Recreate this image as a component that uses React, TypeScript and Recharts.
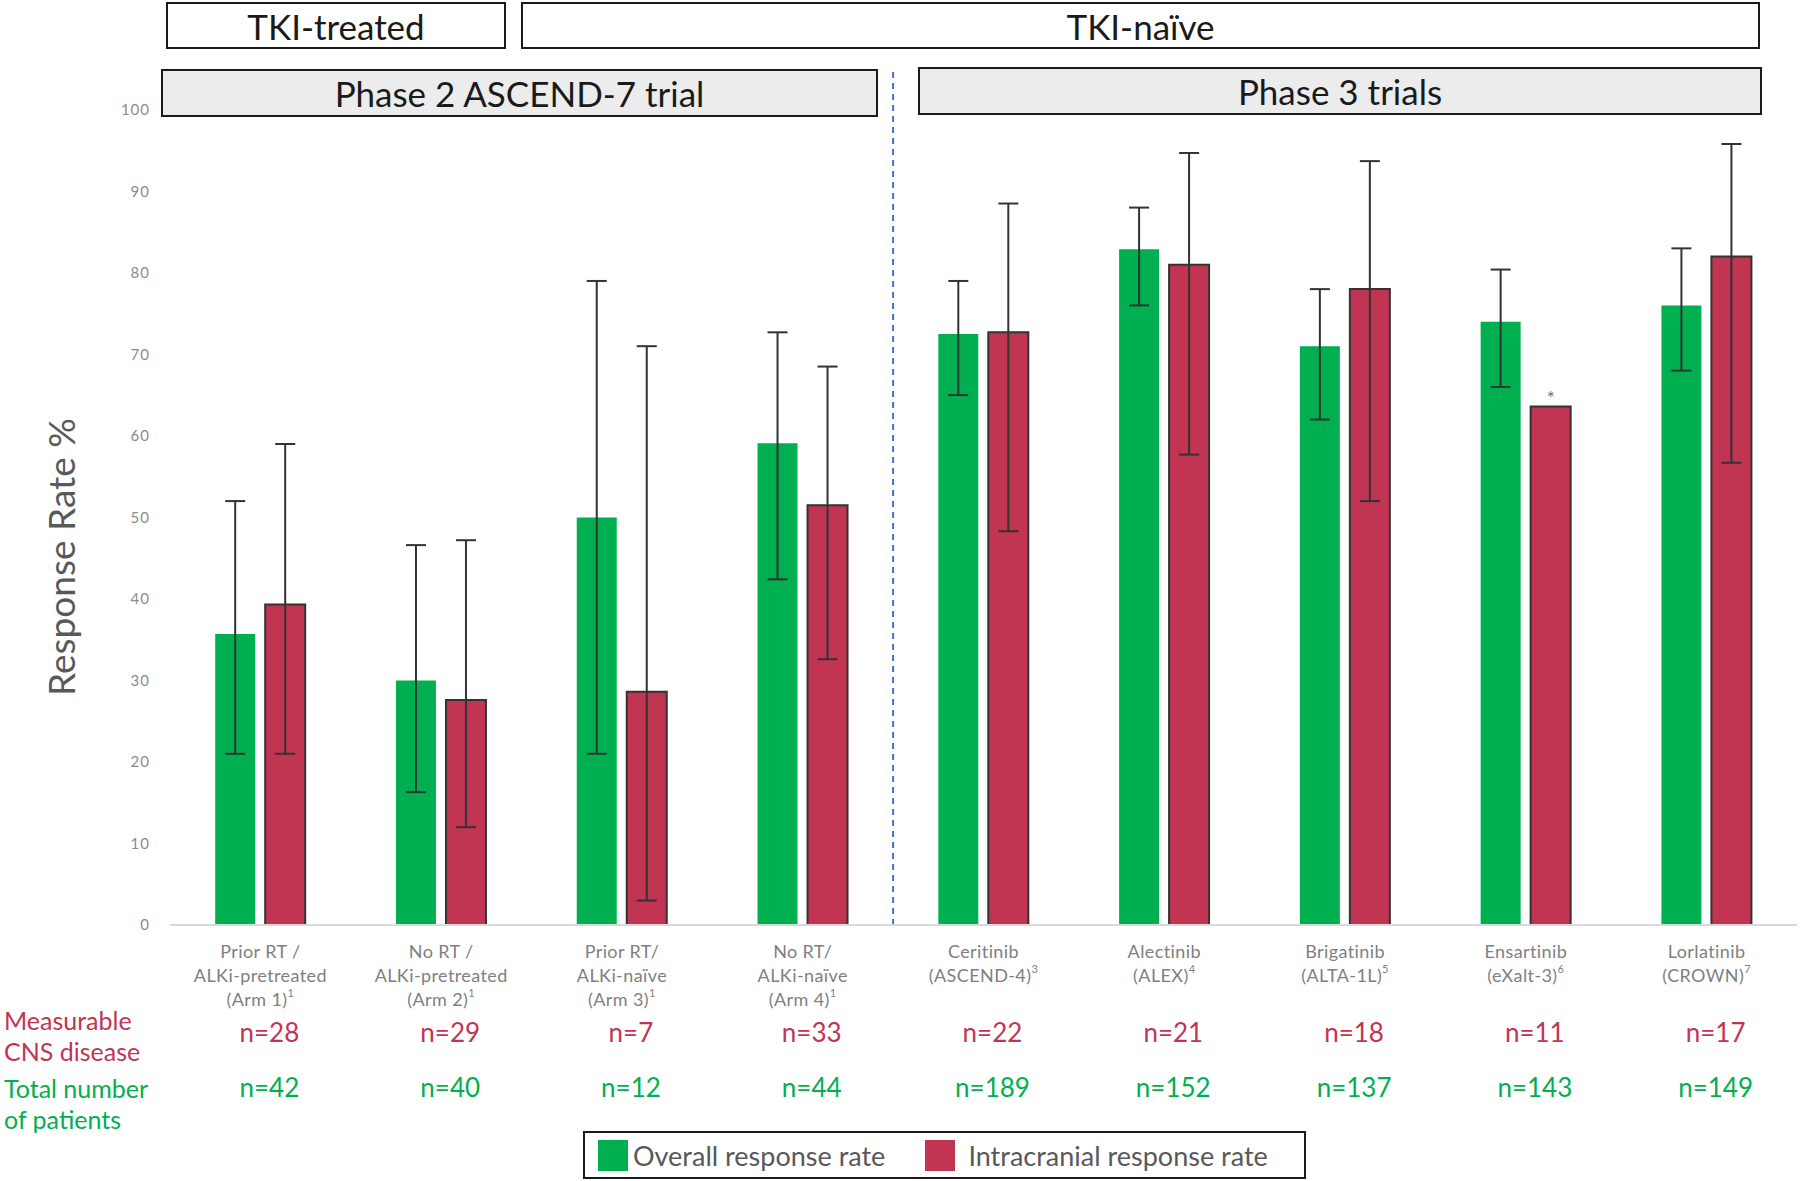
import React from "react";
import {
  BarChart,
  Bar,
  XAxis,
  YAxis,
  ErrorBar,
  ReferenceLine,
  LabelList,
} from "recharts";

const FONT = "Lato, 'Open Sans', sans-serif";
const GREEN = "#00b050";
const RED = "#c13452";

// category labels (one entry per line) and reference numbers
const categories = [
  ["Prior RT /", "ALKi-pretreated", "(Arm 1)"],
  ["No RT /", "ALKi-pretreated", "(Arm 2)"],
  ["Prior RT/", "ALKi-naïve", "(Arm 3)"],
  ["No RT/", "ALKi-naïve", "(Arm 4)"],
  ["Ceritinib", "(ASCEND-4)"],
  ["Alectinib", "(ALEX)"],
  ["Brigatinib", "(ALTA-1L)"],
  ["Ensartinib", "(eXalt-3)"],
  ["Lorlatinib", "(CROWN)"],
];
const refs = ["1", "1", "1", "1", "3", "4", "5", "6", "7"];

// overall response rate + 95% CI
const overall = [35.7, 30.0, 50.0, 59.1, 72.5, 82.9, 71.0, 74.0, 76.0];
const overallLow = [21.0, 16.3, 21.0, 42.4, 65.0, 76.0, 62.0, 66.0, 68.0];
const overallHigh = [52.0, 46.6, 79.0, 72.7, 79.0, 88.0, 78.0, 80.4, 83.0];

// intracranial response rate + 95% CI (none for eXalt-3)
const intracranial = [39.3, 27.6, 28.6, 51.5, 72.7, 81.0, 78.0, 63.6, 82.0];
const icLow = [21.0, 12.0, 3.0, 32.6, 48.3, 57.7, 52.0, null, 56.7];
const icHigh = [59.0, 47.2, 71.0, 68.5, 88.5, 94.7, 93.7, null, 95.8];
const notes = ["", "", "", "", "", "", "", "*", ""];

// patient numbers
const cnsN = [28, 29, 7, 33, 22, 21, 18, 11, 17];
const totalN = [42, 40, 12, 44, 189, 152, 137, 143, 149];

const yTicks = [0, 10, 20, 30, 40, 50, 60, 70, 80, 90, 100];
const seriesNames = ["Overall response rate", "Intracranial response rate"];

const data = categories.map((lines, i) => ({
  name: lines.join(" "),
  overall: overall[i],
  intracranial: intracranial[i],
  overallErr: [overall[i] - overallLow[i], overallHigh[i] - overall[i]],
  icErr:
    icLow[i] == null || icHigh[i] == null
      ? null
      : [intracranial[i] - (icLow[i] as number), (icHigh[i] as number) - intracranial[i]],
  note: notes[i],
}));

// x tick: category label lines + the two n= rows under it
const CategoryTick = (props: any) => {
  const { x, y, index } = props;
  const lines = categories[index];
  return (
    <g fontFamily={FONT}>
      {lines.map((line, j) => (
        <text
          key={j}
          x={x}
          y={y + 26 + j * 24}
          textAnchor="middle"
          dominantBaseline="central"
          fontSize={18}
          letterSpacing={0.4}
          fill="#7f7f7f"
        >
          {line}
          {j === lines.length - 1 && (
            <tspan fontSize={11} dy={-7}>
              {refs[index]}
            </tspan>
          )}
        </text>
      ))}
      <text x={x + 9} y={y + 107} textAnchor="middle" dominantBaseline="central" fontSize={26} fill={RED}>
        n={cnsN[index]}
      </text>
      <text x={x + 9} y={y + 162} textAnchor="middle" dominantBaseline="central" fontSize={26} fill={GREEN}>
        n={totalN[index]}
      </text>
    </g>
  );
};

const boxStyle = (bg: string): React.CSSProperties => ({
  position: "absolute",
  boxSizing: "border-box",
  border: "2px solid #1a1a1a",
  background: bg,
  display: "flex",
  alignItems: "center",
  justifyContent: "center",
  fontFamily: FONT,
  fontSize: 35,
  color: "#1a1a1a",
});

const rowLabel: React.CSSProperties = {
  position: "absolute",
  left: 4,
  fontFamily: FONT,
  fontSize: 25,
  lineHeight: "31px",
};

export default function App() {
  return (
    <div style={{ position: "absolute", left: 0, top: 0, width: 1800, height: 1181, background: "#fff" }}>
      <BarChart
        width={1800}
        height={1181}
        data={data}
        margin={{ top: 69, right: 3, left: 110, bottom: 196 }}
        barCategoryGap="25%"
        barGap={10}
      >
        <XAxis
          dataKey="name"
          interval={0}
          height={60}
          tickLine={false}
          tickSize={0}
          tickMargin={0}
          axisLine={{ stroke: "#d9d9d9", strokeWidth: 2 }}
          tick={<CategoryTick />}
        />
        <YAxis
          domain={[0, 105]}
          ticks={yTicks}
          width={60}
          axisLine={false}
          tickLine={false}
          tickSize={0}
          tickMargin={20}
          tick={{ fontSize: 15, fill: "#8c8c8c", fontFamily: FONT, letterSpacing: 1 }}
        />

        {/* TKI-treated / TKI-naive divider */}
        <ReferenceLine
          x={data[4].name}
          position="start"
          stroke="#4472c4"
          strokeWidth={2}
          strokeDasharray="6 5"
        />

        <Bar dataKey="overall" name={seriesNames[0]} fill={GREEN} isAnimationActive={false}>
          <ErrorBar dataKey="overallErr" width={10} stroke="#333" strokeWidth={2} direction="y" />
        </Bar>
        <Bar
          dataKey="intracranial"
          name={seriesNames[1]}
          fill={RED}
          stroke="#333"
          strokeWidth={2}
          isAnimationActive={false}
        >
          <ErrorBar dataKey="icErr" width={10} stroke="#333" strokeWidth={2} direction="y" />
          <LabelList dataKey="note" position="top" offset={2} fill="#777" fontSize={20} fontFamily={FONT} />
        </Bar>
      </BarChart>

      {/* header boxes */}
      <div style={{ ...boxStyle("#fff"), left: 166, top: 2, width: 340, height: 47 }}>TKI-treated</div>
      <div style={{ ...boxStyle("#fff"), left: 521, top: 2, width: 1239, height: 47 }}>TKI-naïve</div>
      <div style={{ ...boxStyle("#ececec"), left: 161, top: 69, width: 717, height: 48 }}>
        Phase 2 ASCEND-7 trial
      </div>
      <div style={{ ...boxStyle("#ececec"), left: 918, top: 67, width: 844, height: 48 }}>Phase 3 trials</div>

      {/* y axis title */}
      <div
        style={{
          position: "absolute",
          left: 60,
          top: 557,
          transform: "translate(-50%, -50%) rotate(-90deg)",
          whiteSpace: "nowrap",
          fontFamily: FONT,
          fontSize: 37,
          color: "#595959",
        }}
      >
        Response Rate %
      </div>

      {/* row labels */}
      <div style={{ ...rowLabel, top: 1005, color: RED }}>
        Measurable
        <br />
        CNS disease
      </div>
      <div style={{ ...rowLabel, top: 1073, color: GREEN }}>
        Total number
        <br />
        of patients
      </div>

      {/* legend */}
      <div
        style={{
          position: "absolute",
          left: 583,
          top: 1131,
          width: 723,
          height: 48,
          boxSizing: "border-box",
          border: "2px solid #1a1a1a",
          display: "flex",
          alignItems: "center",
          fontFamily: FONT,
          fontSize: 27,
          color: "#595959",
        }}
      >
        {seriesNames.map((n, i) => (
          <div key={n} style={{ display: "flex", alignItems: "center", marginLeft: i === 0 ? 13 : 40 }}>
            <span
              style={{
                display: "inline-block",
                width: 30,
                height: 31,
                background: i === 0 ? GREEN : RED,
                marginRight: i === 0 ? 5 : 13,
              }}
            />
            {n}
          </div>
        ))}
      </div>
    </div>
  );
}
